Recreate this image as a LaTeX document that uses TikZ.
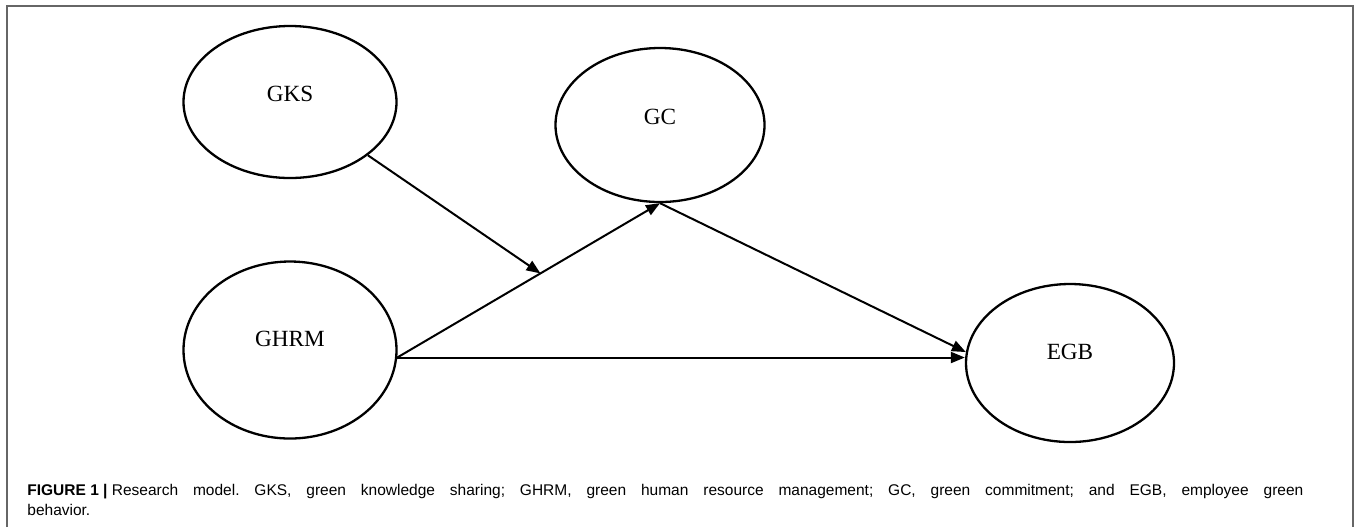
\documentclass[tikz,border=0pt]{standalone}
\usepackage{fontspec}
\setmainfont{Liberation Serif}
\newfontfamily\capfont{Liberation Sans}
\usetikzlibrary{shapes.geometric,arrows.meta}
\begin{document}
\begin{tikzpicture}[x=0.5pt,y=-0.5pt,
  latent/.style={ellipse,draw,line width=1.15pt,inner sep=0pt,
    font=\fontsize{11.6pt}{13pt}\selectfont},
  link/.style={line width=1pt,-{Triangle[length=7pt,width=5.5pt]}},
  frame/.style={line width=1pt,draw=black!60},
  caption/.style={inner sep=0pt,text width=638pt,align=justify,
    font=\capfont\fontsize{7.75pt}{10pt}\selectfont\frenchspacing}
]
\useasboundingbox (0,0) rectangle (1358,527);
\draw[frame] (7,527) -- (7,6) -- (1353,6) -- (1353,527);

\node[latent,minimum width=106.5pt,minimum height=76pt,text depth=8pt] (gks) at (290,102) {GKS};
\node[latent,minimum width=104.5pt,minimum height=77pt,text depth=8pt] (gc) at (660,125) {GC};
\node[latent,minimum width=106.5pt,minimum height=88.5pt,text depth=11pt] (ghrm) at (290,350) {GHRM};
\node[latent,minimum width=104pt,minimum height=79pt,text depth=11pt] (egb) at (1070,363) {EGB};

\draw[link] (ghrm.-4) -- coordinate[pos=0.545] (mod) (gc.south);
\draw[link] (gks) -- (mod);
\draw[link] (gc.south) -- (egb.174);
\draw[link] (ghrm.-4) -- (ghrm.-4 -| egb.west);

\node[caption,anchor=base west] (cap) at (27,495) {\mbox{\textbf{FIGURE 1 |} Research} model. GKS, green knowledge sharing; GHRM, green human resource management; GC, green commitment; and EGB, employee green\linebreak behavior.};
\end{tikzpicture}
\end{document}
